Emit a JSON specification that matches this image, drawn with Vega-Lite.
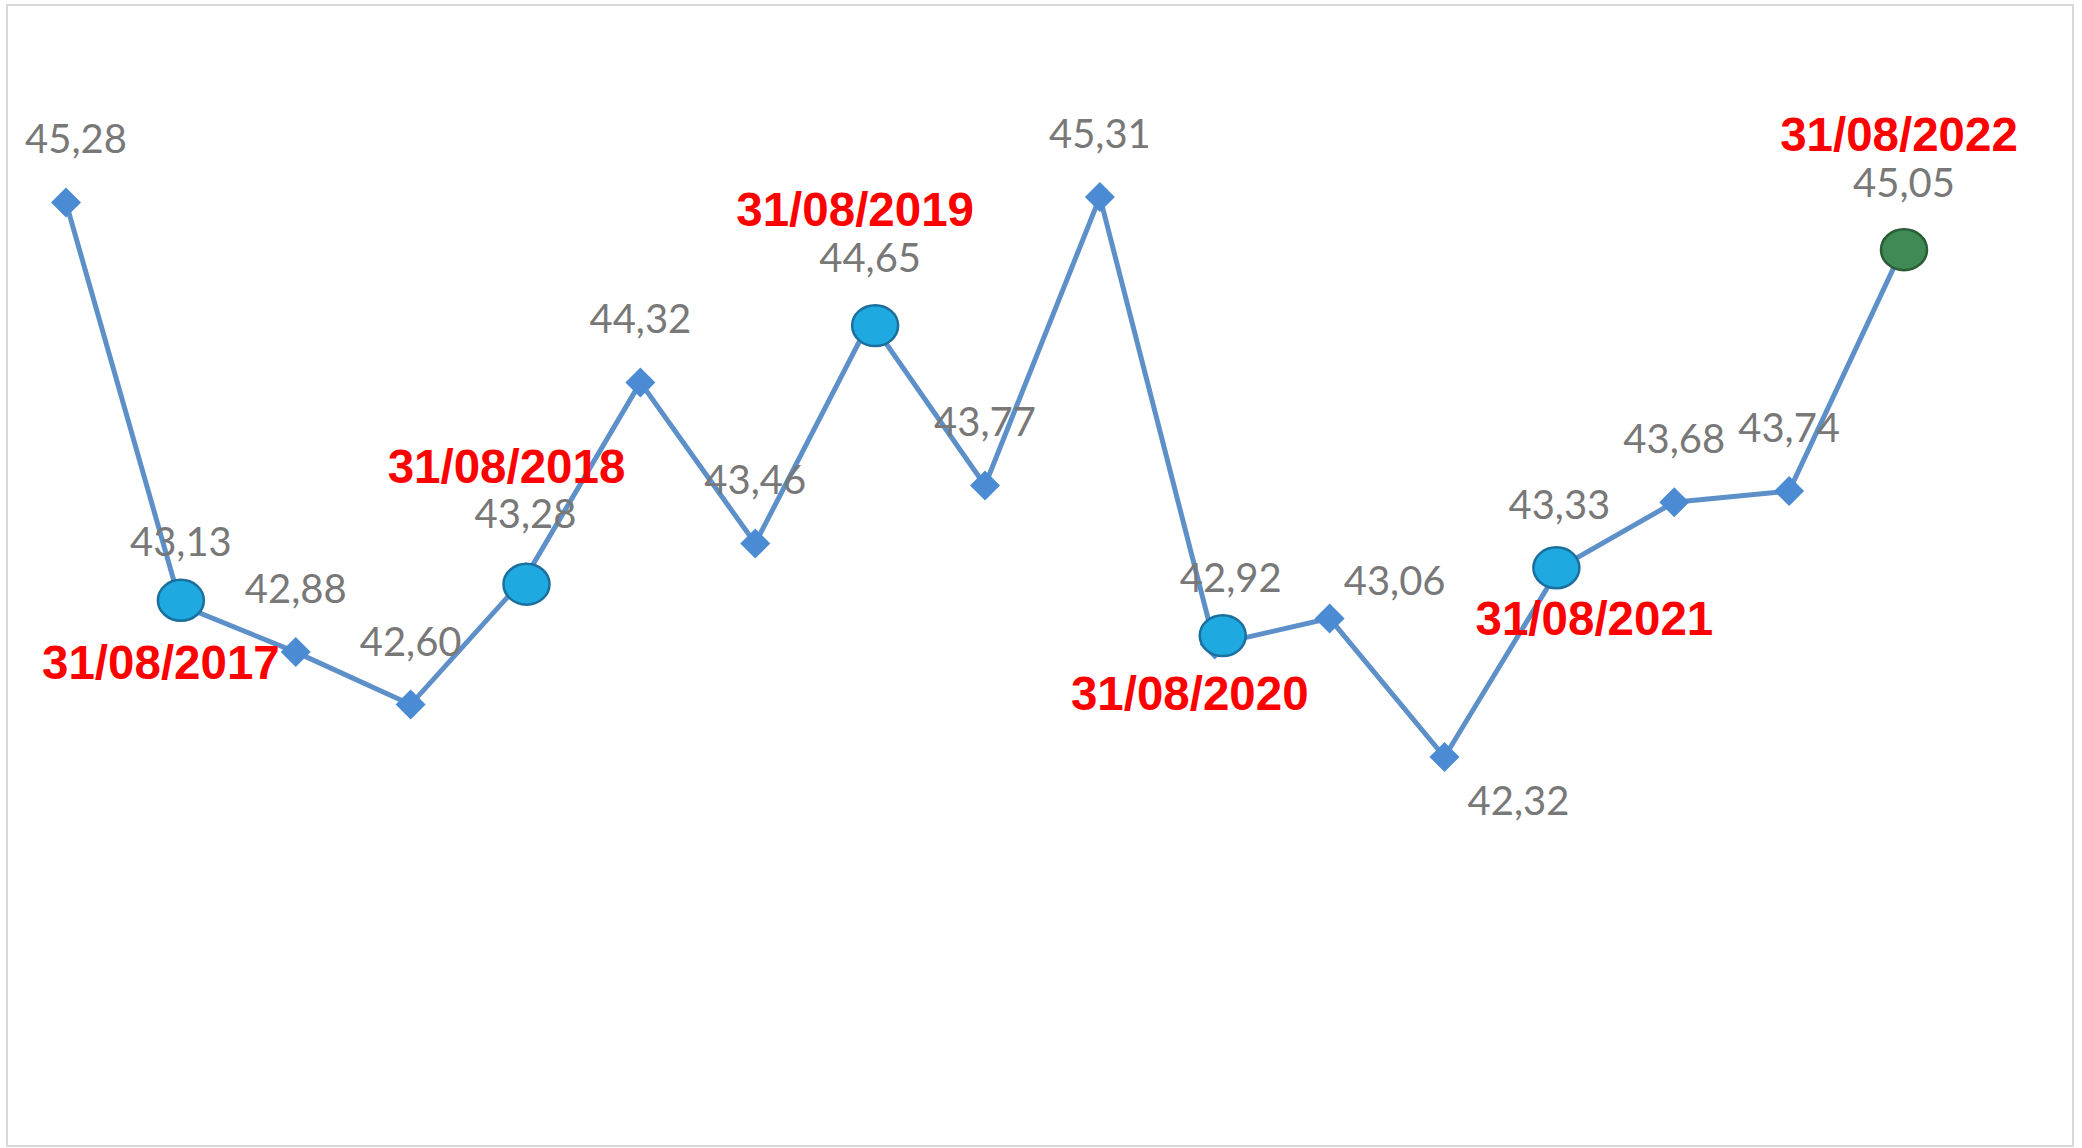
{
  "$schema": "https://vega.github.io/schema/vega-lite/v6.json",
  "width": 2066,
  "height": 1141,
  "autosize": {"type": "none"},
  "padding": {"left": 7, "top": 5, "right": 9, "bottom": 2},
  "background": "white",
  "config": {
    "view": {"stroke": "#d9d9d9", "strokeWidth": 2},
    "locale": {"number": {"decimal": ",", "thousands": ".", "grouping": [3], "currency": ["", " €"]}},
    "point": {"shape": "M -1 0 A 1 0.89 0 1 1 1 0 A 1 0.89 0 1 1 -1 0 Z", "filled": true, "size": 2116, "fill": "#1fa9e1", "stroke": "#1b6f9d", "strokeWidth": 2.5, "opacity": 1},
    "text": {"font": "Lato", "fontSize": 40, "color": "#787878", "align": "center", "baseline": "middle"}
  },
  "data": {
    "values": [
      {"i": 0, "value": 45.28, "hl": null, "date": null},
      {"i": 1, "value": 43.13, "hl": "blue", "date": "31/08/2017"},
      {"i": 2, "value": 42.88, "hl": null, "date": null},
      {"i": 3, "value": 42.60, "hl": null, "date": null},
      {"i": 4, "value": 43.28, "hl": "blue", "date": "31/08/2018"},
      {"i": 5, "value": 44.32, "hl": null, "date": null},
      {"i": 6, "value": 43.46, "hl": null, "date": null},
      {"i": 7, "value": 44.65, "hl": "blue", "date": "31/08/2019"},
      {"i": 8, "value": 43.77, "hl": null, "date": null},
      {"i": 9, "value": 45.31, "hl": null, "date": null},
      {"i": 10, "value": 42.92, "hl": "blue", "date": "31/08/2020"},
      {"i": 11, "value": 43.06, "hl": null, "date": null},
      {"i": 12, "value": 42.32, "hl": null, "date": null},
      {"i": 13, "value": 43.33, "hl": "blue", "date": "31/08/2021"},
      {"i": 14, "value": 43.68, "hl": null, "date": null},
      {"i": 15, "value": 43.74, "hl": null, "date": null},
      {"i": 16, "value": 45.05, "hl": "green", "date": "31/08/2022"}
    ]
  },
  "encoding": {
    "x": {"field": "i", "type": "quantitative", "scale": {"domain": [-0.5136, 17.4712], "nice": false, "zero": false}, "axis": null},
    "y": {"field": "value", "type": "quantitative", "scale": {"domain": [40.243, 46.3351], "nice": false, "zero": false}, "axis": null}
  },
  "layer": [
    {"mark": {"type": "line", "color": "#5d90c8", "strokeWidth": 5}},
    {"mark": {"type": "point", "shape": "diamond", "filled": true, "size": 900, "fill": "#4b8bd3", "stroke": null, "strokeWidth": 0, "opacity": 1}},
    {"transform": [{"filter": "datum.i == 1"}], "mark": {"type": "point", "yOffset": -5}},
    {"transform": [{"filter": "datum.i == 4"}], "mark": {"type": "point", "xOffset": 1, "yOffset": 7}},
    {"transform": [{"filter": "datum.i == 7"}], "mark": {"type": "point", "xOffset": 5, "yOffset": 5}},
    {"transform": [{"filter": "datum.i == 10"}], "mark": {"type": "point", "xOffset": 8, "yOffset": -9}},
    {"transform": [{"filter": "datum.i == 13"}], "mark": {"type": "point", "xOffset": -3, "yOffset": 0}},
    {"transform": [{"filter": "datum.i == 16"}], "mark": {"type": "point", "fill": "#3f8a55", "stroke": "#2b5d36", "yOffset": 4}},
    {
      "transform": [{"filter": "datum.i != 0 && datum.i != 10 && datum.i != 11 && datum.i != 12"}],
      "mark": {"type": "text", "dy": -61},
      "encoding": {"text": {"field": "value", "type": "quantitative", "format": ".2f"}}
    },
    {
      "transform": [{"filter": "datum.i == 0"}],
      "mark": {"type": "text", "dx": 10, "dy": -62},
      "encoding": {"text": {"field": "value", "type": "quantitative", "format": ".2f"}}
    },
    {
      "transform": [{"filter": "datum.i == 10"}],
      "mark": {"type": "text", "dx": 16, "dy": -65},
      "encoding": {"text": {"field": "value", "type": "quantitative", "format": ".2f"}}
    },
    {
      "transform": [{"filter": "datum.i == 11"}],
      "mark": {"type": "text", "dx": 65, "dy": -35},
      "encoding": {"text": {"field": "value", "type": "quantitative", "format": ".2f"}}
    },
    {
      "transform": [{"filter": "datum.i == 12"}],
      "mark": {"type": "text", "dx": 74, "dy": 46},
      "encoding": {"text": {"field": "value", "type": "quantitative", "format": ".2f"}}
    },
    {
      "transform": [{"filter": "datum.i == 1"}],
      "mark": {"type": "text", "font": "Liberation Sans", "fontWeight": "bold", "fontSize": 47.5, "color": "#ff0000", "dx": -20, "dy": 60},
      "encoding": {"text": {"field": "date", "type": "nominal"}}
    },
    {
      "transform": [{"filter": "datum.i == 4"}],
      "mark": {"type": "text", "font": "Liberation Sans", "fontWeight": "bold", "fontSize": 47.5, "color": "#ff0000", "dx": -19, "dy": -108},
      "encoding": {"text": {"field": "date", "type": "nominal"}}
    },
    {
      "transform": [{"filter": "datum.i == 7"}],
      "mark": {"type": "text", "font": "Liberation Sans", "fontWeight": "bold", "fontSize": 47.5, "color": "#ff0000", "dx": -15, "dy": -109},
      "encoding": {"text": {"field": "date", "type": "nominal"}}
    },
    {
      "transform": [{"filter": "datum.i == 10"}],
      "mark": {"type": "text", "font": "Liberation Sans", "fontWeight": "bold", "fontSize": 47.5, "color": "#ff0000", "dx": -25, "dy": 51},
      "encoding": {"text": {"field": "date", "type": "nominal"}}
    },
    {
      "transform": [{"filter": "datum.i == 13"}],
      "mark": {"type": "text", "font": "Liberation Sans", "fontWeight": "bold", "fontSize": 47.5, "color": "#ff0000", "dx": 35, "dy": 53},
      "encoding": {"text": {"field": "date", "type": "nominal"}}
    },
    {
      "transform": [{"filter": "datum.i == 16"}],
      "mark": {"type": "text", "font": "Liberation Sans", "fontWeight": "bold", "fontSize": 47.5, "color": "#ff0000", "dx": -5, "dy": -109},
      "encoding": {"text": {"field": "date", "type": "nominal"}}
    }
  ]
}
